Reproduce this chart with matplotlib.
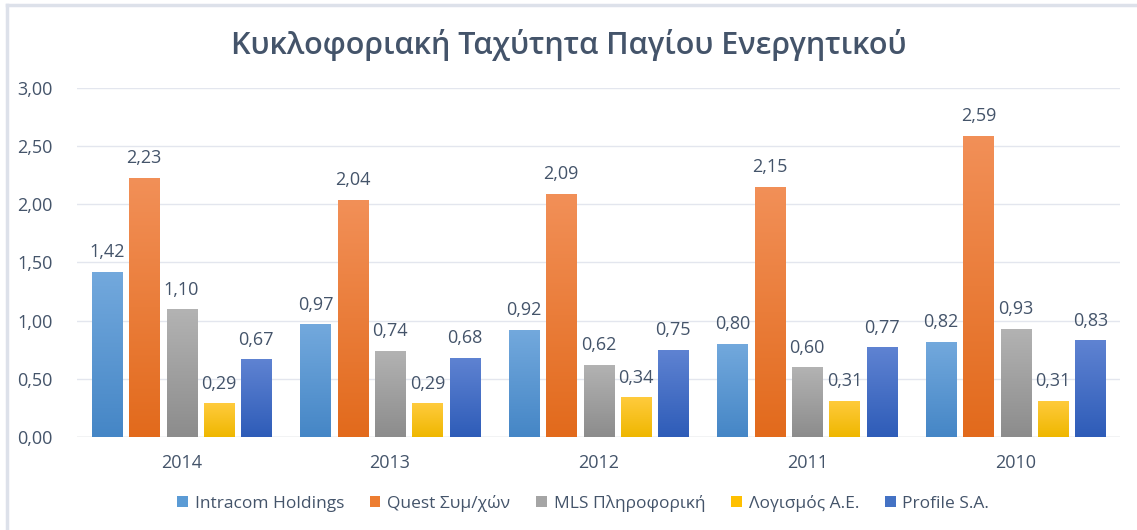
import numpy as np
import matplotlib.pyplot as plt
from matplotlib.colors import LinearSegmentedColormap
from matplotlib.lines import Line2D
from matplotlib.patches import Patch

years = ["2014", "2013", "2012", "2011", "2010"]
companies = ["Intracom Holdings", "Quest Συμ/χών", "MLS Πληροφορική", "Λογισμός Α.Ε.", "Profile S.A."]
intracom = [1.42, 0.97, 0.92, 0.80, 0.82]
quest = [2.23, 2.04, 2.09, 2.15, 2.59]
mls = [1.10, 0.74, 0.62, 0.60, 0.93]
logismos = [0.29, 0.29, 0.34, 0.31, 0.31]
profile = [0.67, 0.68, 0.75, 0.77, 0.83]
series = [intracom, quest, mls, logismos, profile]

# (top colour, bottom colour, legend colour)
colors = [("#73a9dd", "#4586c6", "#5b9bd5"),
          ("#f29058", "#e26a1c", "#ed7d31"),
          ("#b3b3b3", "#8c8c8c", "#a5a5a5"),
          ("#ffcb3d", "#efb700", "#ffc000"),
          ("#5f83d2", "#2e5cb8", "#4472c4")]

txt = "#44546a"
plt.rcParams['font.family'] = ['Open Sans', 'DejaVu Sans']

fig = plt.figure(figsize=(11.37, 5.3), dpi=100)
ax = fig.add_axes([0.068, 0.1755, 0.917, 0.6585])

x = np.arange(len(years))
step = 0.179
width = 0.144
grad = np.linspace(0, 1, 256).reshape(-1, 1)
for i, vals in enumerate(series):
    top, bot, _ = colors[i]
    cmap = LinearSegmentedColormap.from_list("g%d" % i, [bot, top])
    pos = x + (i - 2) * step
    bars = ax.bar(pos, vals, width, color="none", edgecolor="none", zorder=3)
    for b, v in zip(bars, vals):
        x0 = b.get_x()
        im = ax.imshow(grad, cmap=cmap, origin="lower", aspect="auto",
                       extent=[x0, x0 + width, 0, v], zorder=3)
        im.set_clip_path(b)
        ax.text(b.get_x() + width / 2, v + 0.09, f"{v:.2f}".replace(".", ","),
                ha="center", va="bottom", fontsize=13, color=txt)

ax.set_xlim(-0.5, 4.5)
ax.set_ylim(0, 3)
ax.set_yticks(np.arange(0, 3.01, 0.5))
ax.set_yticklabels([f"{t:.2f}".replace(".", ",") for t in np.arange(0, 3.01, 0.5)])
ax.set_xticks(x)
ax.set_xticklabels(years)
ax.tick_params(length=0, labelsize=13, colors=txt)
ax.tick_params(axis="y", pad=18)
ax.tick_params(axis="x", pad=12)
ax.grid(axis="y", color="#e3e6ee", linewidth=1)
ax.set_axisbelow(True)
for s in ax.spines.values():
    s.set_visible(False)
ax.axhline(0, color="#d9d9d9", linewidth=1, zorder=2)

fig.text(0.5, 0.915, "Κυκλοφοριακή Ταχύτητα Παγίου Ενεργητικού", ha="center", va="center",
         fontsize=22, fontweight="semibold", color=txt)

handles = [Patch(facecolor=c[2], edgecolor="none") for c in colors]
fig.legend(handles, companies, loc="center", bbox_to_anchor=(0.513, 0.05), ncol=5,
           frameon=False, fontsize=12.5, labelcolor=txt, handlelength=0.6, handleheight=0.6,
           handletextpad=0.4, columnspacing=1.5)

# chart frame (top and left edges)
fig.add_artist(Line2D([0.006, 1], [0.991, 0.991], color="#dde1ea", linewidth=2.5))
fig.add_artist(Line2D([0.0065, 0.0065], [0, 0.991], color="#dde1ea", linewidth=2.5))

fig.savefig("out.png", dpi=100)
